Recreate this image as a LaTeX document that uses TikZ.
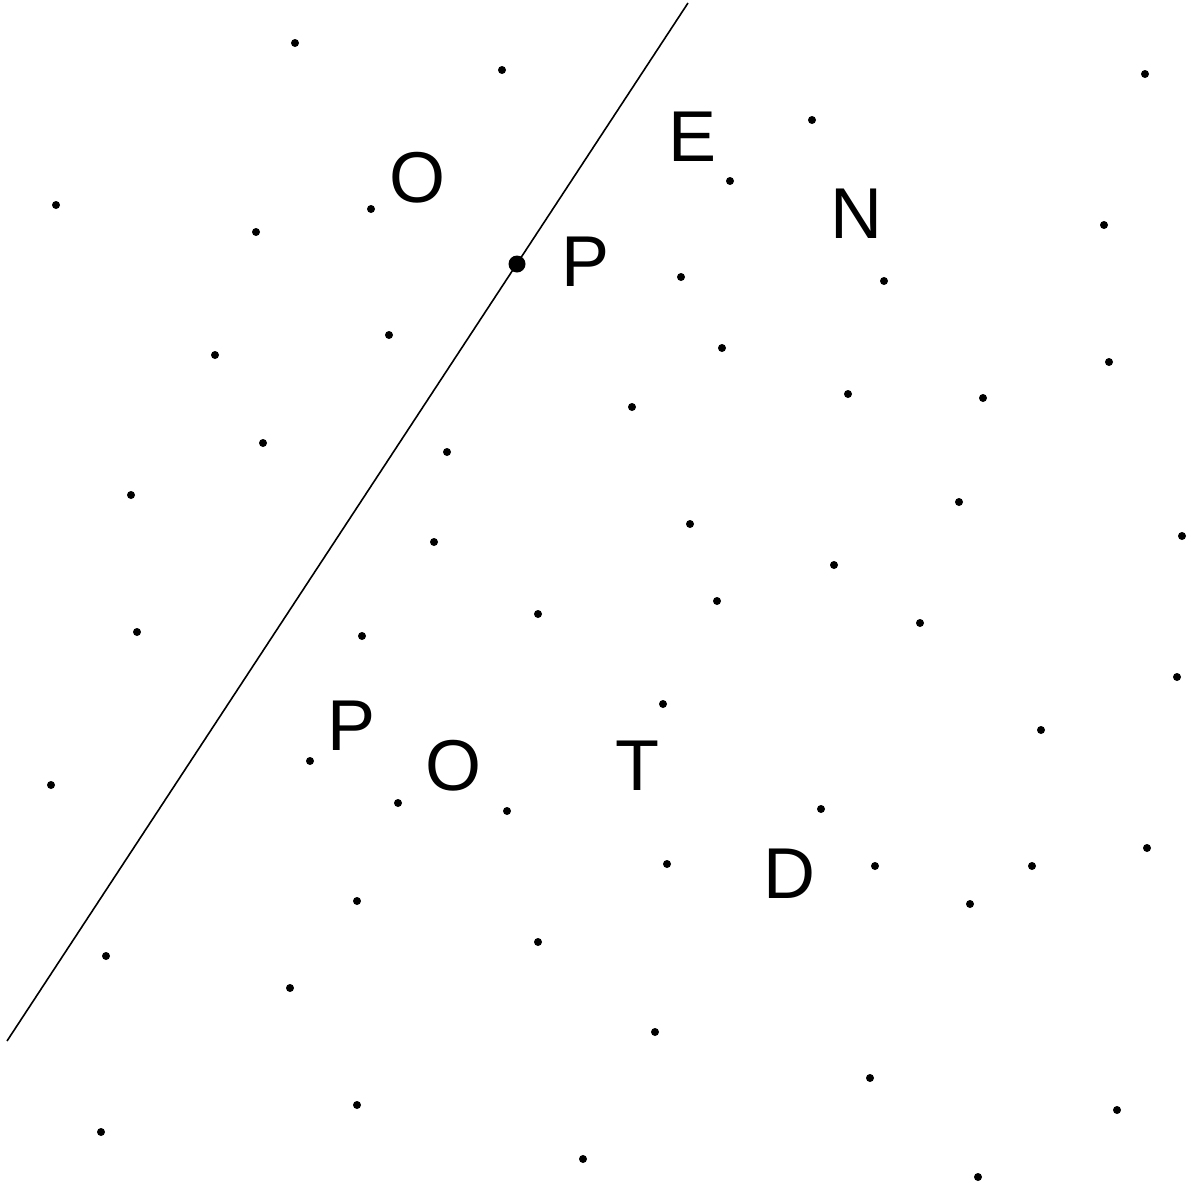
\documentclass[tikz,border=0pt]{standalone}
\usepackage{fontspec}
\setmainfont{Liberation Sans}
\begin{document}
\begin{tikzpicture}[x=1pt,y=-1pt,
  dotstyle/.style={fill=black},
  letter/.style={anchor=base,inner sep=0pt,font=\fontsize{72}{72}\selectfont}]
\useasboundingbox[fill=white] (0,0) rectangle (1189,1186);
\foreach \x/\y in {295/43,502/70,1145/74,812/120,56/205,371/209,730/181,256/232,1104/225,681/277,884/281,389/335,215/355,722/348,1109/362,848/394,983/398,632/407,263/443,447/452,131/495,959/502,690/524,1182/536,434/542,834/565,717/601,538/614,920/623,137/632,362/636,663/704,1177/677,1041/730,310/761,51/785,398/803,507/811,821/809,667/864,875/866,1032/866,1147/848,357/901,970/904,106/956,538/942,290/988,655/1032,870/1078,357/1105,1117/1110,101/1132,583/1159,978/1177}
  \fill[dotstyle] (\x,\y) circle (4);
\coordinate (lt) at (688,3);
\coordinate (lb) at (7,1041);
\draw[line width=1.6] (lt) -- (lb);
\fill[dotstyle] (517,264) circle (8.5);
\node[letter] (o1) at (417,202) {O};
\node[letter] (e1) at (693,161) {E};
\node[letter] (n1) at (856,238) {N};
\node[letter] (p1) at (586,286) {P};
\node[letter] (p2) at (352,750) {P};
\node[letter] (o2) at (453,790) {O};
\node[letter] (t1) at (637,790) {T};
\node[letter] (d1) at (789,898) {D};
\end{tikzpicture}
\end{document}
